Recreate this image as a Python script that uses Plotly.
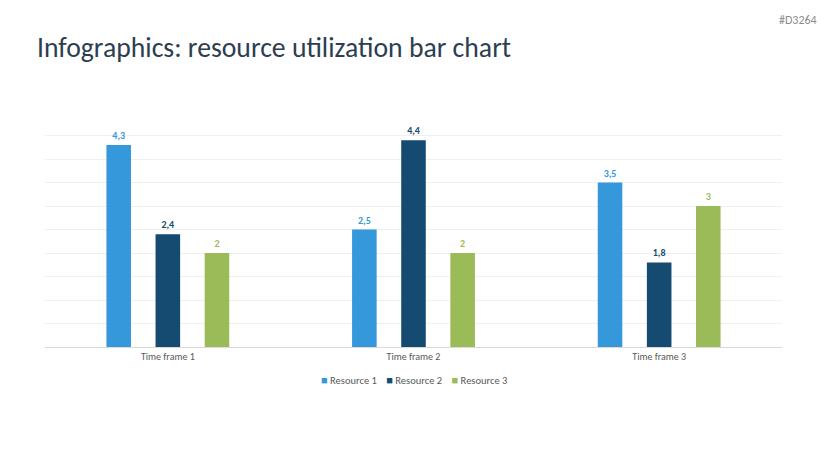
import plotly.graph_objects as go

categories = ["Time frame 1", "Time frame 2", "Time frame 3"]
series_names = ["Resource 1", "Resource 2", "Resource 3"]
resource1 = [4.3, 2.5, 3.5]
resource2 = [2.4, 4.4, 1.8]
resource3 = [2.0, 2.0, 3.0]
colors = ["#3498db", "#154b70", "#9bbb59"]

FONT = "Carlito, Lato, sans-serif"

def fmt(v):
    s = ("%g" % v)
    return s.replace(".", ",")

fig = go.Figure()
for name, vals, col in zip(series_names, [resource1, resource2, resource3], colors):
    fig.add_trace(go.Bar(
        x=categories, y=vals, name=name,
        marker=dict(color=col, line=dict(width=0)),
        text=[fmt(v) for v in vals], textposition="outside",
        textfont=dict(color=col, size=10, family=FONT, weight="bold"),
        cliponaxis=False, showlegend=False,
    ))

fig.update_layout(
    width=821, height=458,
    margin=dict(l=37, r=47, t=104, b=119),
    paper_bgcolor="white", plot_bgcolor="white",
    barmode="group", bargap=0.4, bargroupgap=0.5,
    font=dict(family=FONT, color="#595959"),
    xaxis=dict(showgrid=False, showline=True, linecolor="#d9d9d9", linewidth=1,
               ticks="", tickfont=dict(size=10, color="#595959")),
    yaxis=dict(range=[0, 5], dtick=0.5, showgrid=True, gridcolor="#f0f0f0",
               showticklabels=False, zeroline=False, showline=False),
)

legend_text = "&nbsp;&nbsp;&nbsp;&nbsp;".join(
    f"<span style='color:{c};font-size:11px'>■</span> {n}" for n, c in zip(series_names, colors))
fig.add_annotation(text=legend_text, xref="paper", yref="paper", x=0.5, y=0, xanchor="center",
                   yanchor="middle", yshift=-33, showarrow=False,
                   font=dict(size=10.5, color="#595959", family=FONT))

fig.add_annotation(text="Infographics: resource utili\u200czation bar chart", xref="paper", yref="paper",
                   x=-0.013, y=1, xanchor="left", yanchor="bottom", yshift=46, showarrow=False,
                   font=dict(size=27.7, color="#2c3e50", family=FONT))
fig.add_annotation(text="#D3264", xref="paper", yref="paper", x=1.05, y=1, xanchor="right",
                   yanchor="bottom", yshift=83, showarrow=False,
                   font=dict(size=12, color="#8c8c8c", family=FONT))

fig.write_html("out.html")
